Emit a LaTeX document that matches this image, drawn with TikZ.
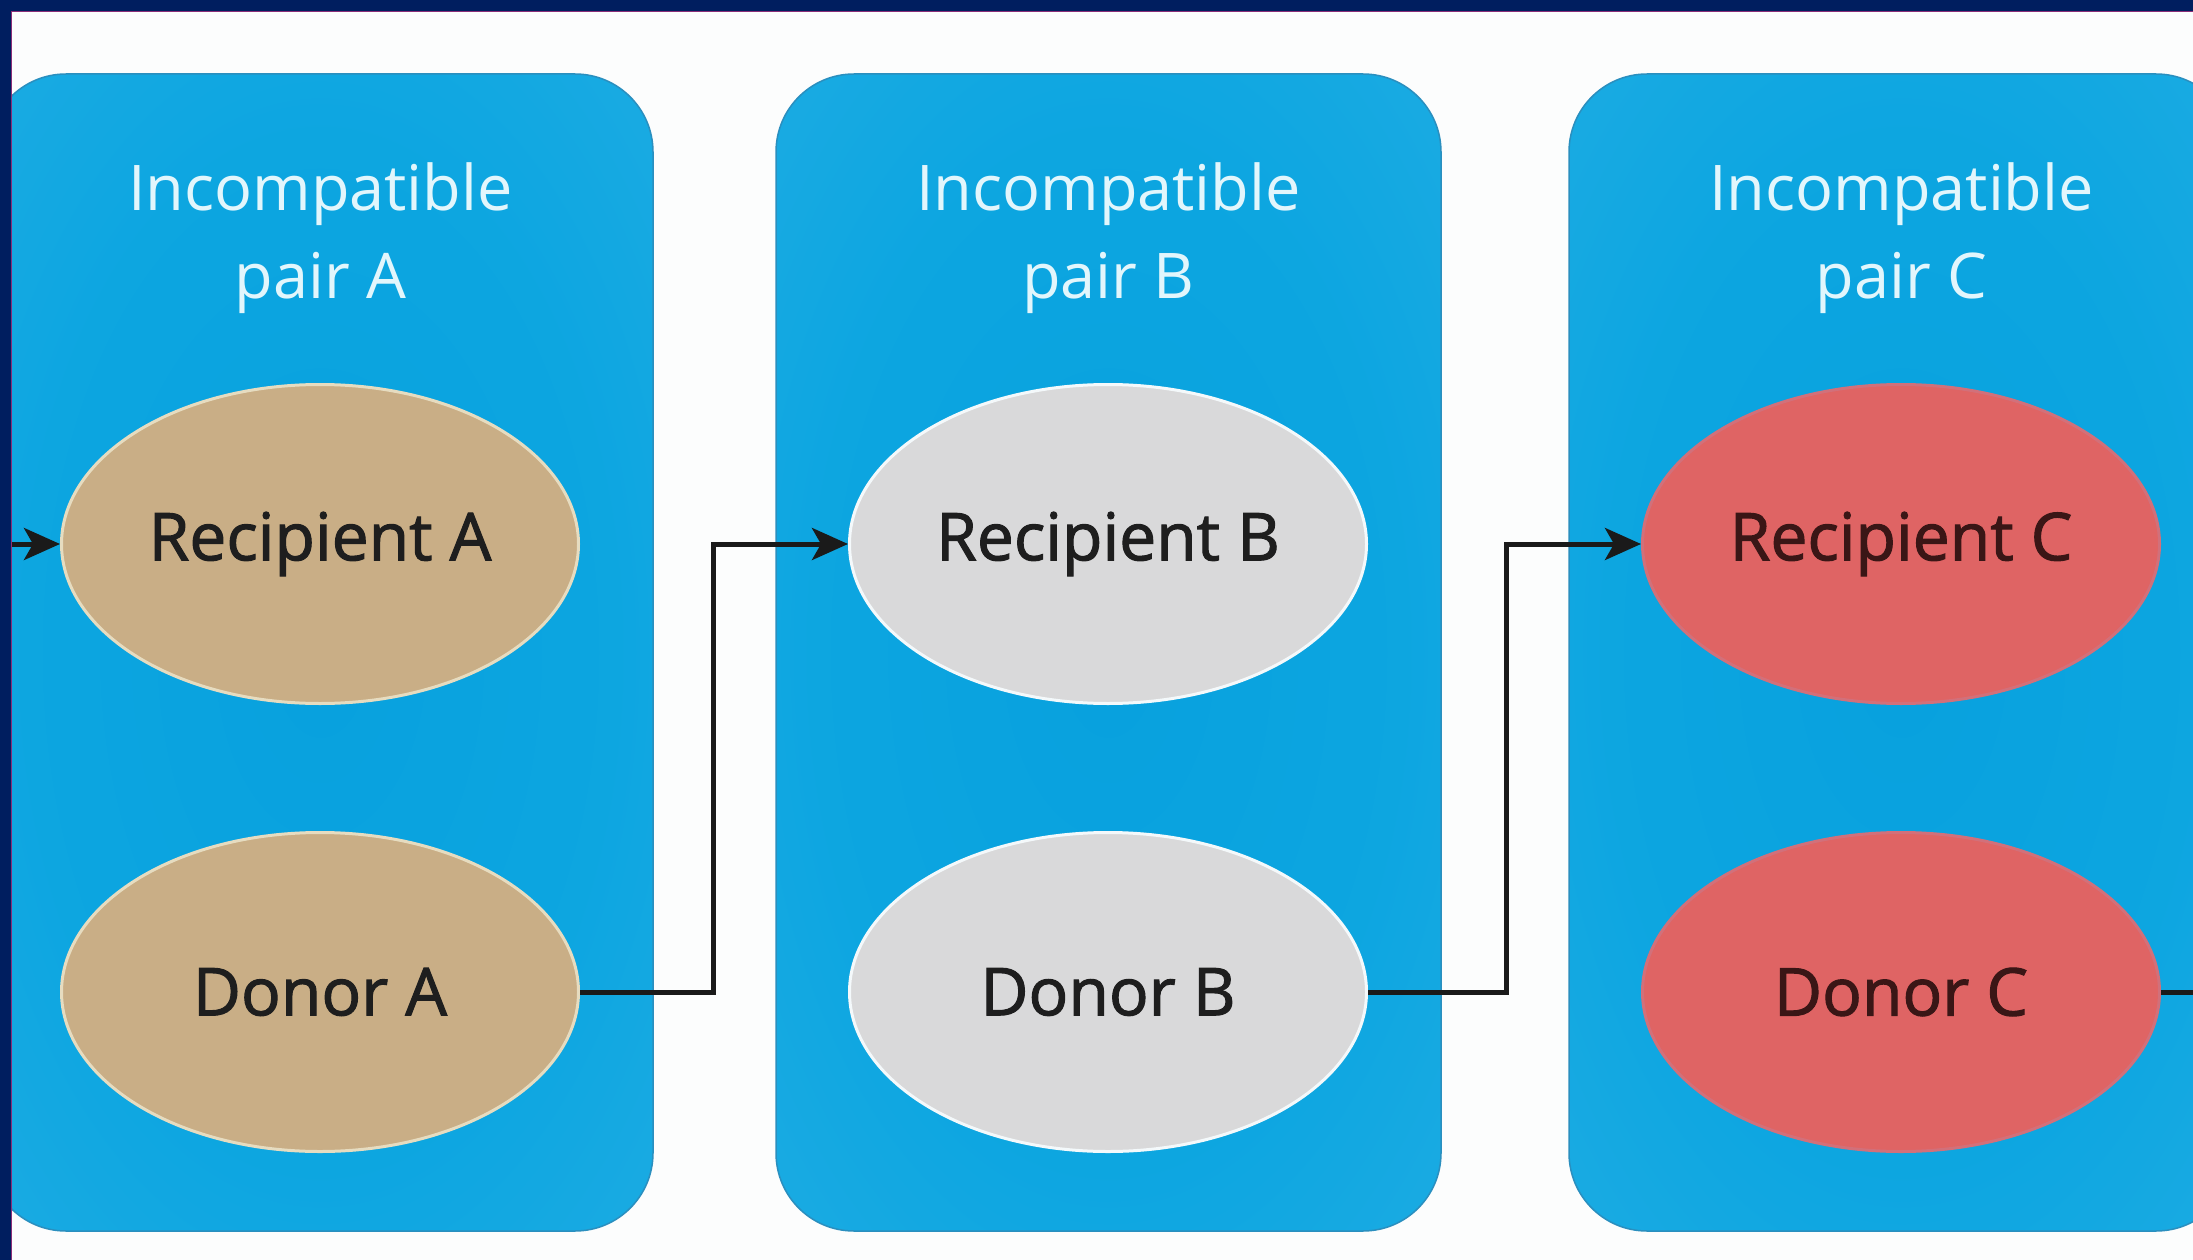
\documentclass[tikz,border=0pt]{standalone}
\usepackage{fontspec}
\setmainfont{Open Sans}
\newfontfamily\lblfont{Open Sans}[FakeBold=1.6]
\usetikzlibrary{shapes.geometric,arrows.meta}
\definecolor{navyband}{HTML}{001E5F}
\definecolor{edgeline}{HTML}{8A2E78}
\definecolor{pagebg}{HTML}{FCFDFD}
\definecolor{panelrim}{HTML}{2A8FBF}
\definecolor{titlecol}{HTML}{E2F6FC}
\definecolor{tanfill}{HTML}{C9AE86}
\definecolor{tanrim}{HTML}{E6DCC0}
\definecolor{greyfill}{HTML}{D9D9DA}
\definecolor{greyrim}{HTML}{F4F9FB}
\definecolor{redfill}{HTML}{DF6464}
\definecolor{redrim}{HTML}{D2707A}
\definecolor{lbldark}{HTML}{1E1E1E}
\definecolor{lblred}{HTML}{3A1616}
\definecolor{conncol}{HTML}{1A1A1A}
\pgfdeclareradialshading{panelshade}{\pgfpoint{0bp}{0bp}}{%
  rgb(0bp)=(0.03,0.63,0.87);
  rgb(22bp)=(0.05,0.65,0.88);
  rgb(42bp)=(0.13,0.68,0.89);
  rgb(55bp)=(0.22,0.71,0.90);
  rgb(72bp)=(0.32,0.75,0.92)}
\tikzset{
  panel/.style={rectangle, rounded corners=78pt, minimum width=665pt,
    minimum height=1157pt, inner sep=0pt, shade, shading=panelshade,
    draw=panelrim, line width=1.5pt},
  title/.style={align=center, text=titlecol, font=\fontsize{63}{88}\selectfont},
  ell/.style={ellipse, minimum width=517pt, minimum height=319pt, inner sep=0pt,
    line width=3pt, font=\lblfont\fontsize{66}{80}\selectfont, text=lbldark},
  conn/.style={draw=conncol, line width=5pt},
  tip/.style={-{Stealth[length=36pt,width=32pt,inset=9pt]}}
}
\begin{document}
\begin{tikzpicture}[x=1pt,y=-1pt]
\useasboundingbox (0,0) rectangle (2193,1260);
\clip (0,0) rectangle (2193,1260);
\fill[pagebg] (0,0) rectangle (2193,1260);

% panels
\node[panel] (pA) at (320.5,652.5) {};
\node[panel] (pB) at (1108.5,652.5) {};
\node[panel] (pC) at (1901.5,652.5) {};

% titles
\node[title] (tA) at (320.5,238) {Incompatible\\pair A};
\node[title] (tB) at (1108.5,238) {Incompatible\\pair B};
\node[title] (tC) at (1901.5,238) {Incompatible\\pair C};

% ellipses
\node[ell, fill=tanfill, draw=tanrim] (rA) at (320,544) {Recipient A};
\node[ell, fill=tanfill, draw=tanrim] (dA) at (320,992) {Donor A};
\node[ell, fill=greyfill, draw=greyrim] (rB) at (1108,544) {Recipient B};
\node[ell, fill=greyfill, draw=greyrim] (dB) at (1108,992) {Donor B};
\node[ell, fill=redfill, draw=redrim, text=lblred] (rC) at (1901,544) {Recipient C};
\node[ell, fill=redfill, draw=redrim, text=lblred] (dC) at (1901,992) {Donor C};

% connector helper points
\coordinate (inL) at (8,544);
\coordinate (kA) at (713,992);
\coordinate (kB) at (1506,992);
\coordinate (outR) at (2193,992);

% connectors
\draw[conn, tip] (inL) -- (rA.west);
\draw[conn, tip] (dA.east) -- (kA) |- (rB.west);
\draw[conn, tip] (dB.east) -- (kB) |- (rC.west);
\draw[conn] (dC.east) -- (outR);

% frame bands
\fill[navyband] (0,0) rectangle (2193,11);
\fill[navyband] (0,0) rectangle (11,1260);
\draw[edgeline, line width=1.2pt] (11.6,1260) -- (11.6,11.6) -- (2193,11.6);
\end{tikzpicture}
\end{document}
